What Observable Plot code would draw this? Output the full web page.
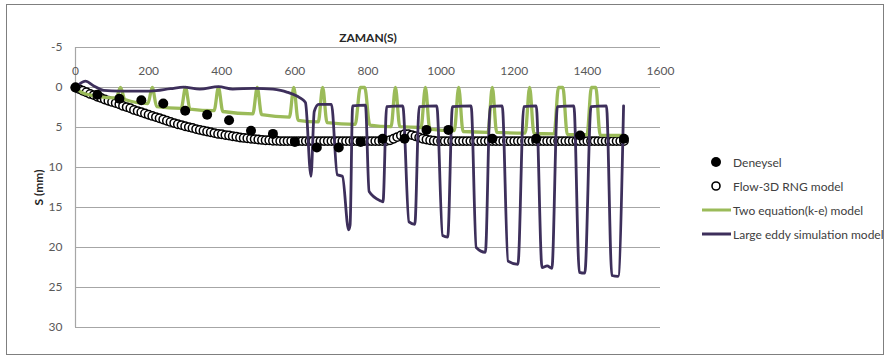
<!DOCTYPE html>
<html>
<head>
<meta charset="utf-8">
<script src="https://cdn.jsdelivr.net/npm/d3@7"></script>
<script src="https://cdn.jsdelivr.net/npm/@observablehq/plot@0.6"></script>
<style>
  body { margin: 0; background: #fff; }
  #wrap { position: relative; width: 889px; height: 358px; font-family: Lato, "Open Sans", sans-serif; overflow: hidden; }
  #chart { position: absolute; left: 0; top: 0; }
  #border { position: absolute; left: 6px; top: 4px; width: 876px; height: 349px; border: 1.8px solid #7f7f7f; pointer-events: none; }
  #legend { position: absolute; left: 701px; top: 150px; font-size: 12px; color: #404040; }
  .item { display: flex; align-items: center; height: 24px; white-space: nowrap; }
  .item svg { flex: none; }
  .item span { margin-left: 2px; }
</style>
</head>
<body>
<div id="wrap">
  <div id="chart"></div>
  <div id="legend"></div>
  <div id="border"></div>
</div>
<script>
// ---- Axis ticks ----
const xTicks = [0, 200, 400, 600, 800, 1000, 1200, 1400, 1600];
const yTicks = [-5, 0, 5, 10, 15, 20, 25, 30];

// ---- Deneysel (experimental) ----
const depT = [0, 60, 120, 180, 240, 300, 360, 420, 480, 540, 600, 660, 720, 780, 840, 900, 960, 1020, 1140, 1260, 1380, 1500];
const depY = [0, 0.9, 1.4, 1.6, 2.0, 2.9, 3.4, 4.1, 5.4, 5.8, 6.8, 7.5, 7.5, 6.8, 6.4, 6.4, 5.3, 5.3, 6.4, 6.4, 6.0, 6.4];

// ---- Flow-3D RNG model (sampled every 10 s, t = 0 ... 1500) ----
const flowStep = 10;
const flowY = [
  0, 0.2, 0.4, 0.6, 0.8, 0.95, 1.15, 1.3, 1.5, 1.65, 1.8,
  1.95, 2.1, 2.3, 2.45, 2.6, 2.8, 2.95, 3.1, 3.25, 3.4,
  3.55, 3.7, 3.85, 4.0, 4.15, 4.3, 4.45, 4.6, 4.7, 4.85,
  4.95, 5.05, 5.2, 5.3, 5.4, 5.5, 5.6, 5.7, 5.8, 5.85,
  5.95, 6.0, 6.1, 6.15, 6.25, 6.3, 6.35, 6.4, 6.45, 6.5,
  6.55, 6.6, 6.6, 6.65, 6.65, 6.7, 6.7, 6.7, 6.7, 6.7,
  6.7, 6.7, 6.7, 6.7, 6.7, 6.7, 6.7, 6.7, 6.7, 6.7,
  6.7, 6.7, 6.7, 6.7, 6.7, 6.7, 6.7, 6.7, 6.7, 6.7,
  6.7, 6.7, 6.7, 6.7, 6.7,
  6.6, 6.4, 6.2, 6.0, 5.85,
  5.85, 5.95, 6.1, 6.25, 6.4,
  6.5, 6.6, 6.65, 6.7, 6.7,
  6.7, 6.7, 6.7, 6.7, 6.7, 6.7, 6.7, 6.7, 6.7, 6.7,
  6.7, 6.7, 6.7, 6.7, 6.7, 6.7, 6.7, 6.7, 6.7, 6.7,
  6.7, 6.7, 6.7, 6.7, 6.7, 6.7, 6.7, 6.7, 6.7, 6.7,
  6.7, 6.7, 6.7, 6.7, 6.7, 6.7, 6.7, 6.7, 6.7, 6.7,
  6.7, 6.7, 6.7, 6.7, 6.7, 6.7, 6.7, 6.7, 6.7, 6.7
];

// ---- Two equation (k-e) model ----
const keT = [0, 20, 60, 111, 123, 135, 198, 210, 222, 289, 301, 313, 379, 391, 403, 485, 497, 509,
  585, 597, 609, 664, 676, 688, 765, 779, 791, 805, 863, 875, 887, 945, 957, 969,
  1036, 1048, 1060, 1128, 1140, 1152, 1230, 1242, 1254, 1309, 1321, 1333, 1345,
  1399, 1411, 1423, 1435, 1500];
const keY = [0, 0.7, 1.1, 1.3, 0, 1.5, 2.0, 0, 2.4, 2.6, 0, 2.7, 2.9, 0, 3.0, 3.3, 0, 3.4,
  3.7, 0, 4.1, 4.3, 0, 4.4, 4.6, 0, 0, 4.7, 4.9, 0, 4.9, 5.0, 0, 5.2,
  5.4, 0, 5.5, 5.6, 0, 5.6, 5.7, 0, 5.75, 5.8, 0, 0, 5.85,
  5.9, 0, 0, 5.95, 6.0];

// ---- Large eddy simulation model ----
const lesT = [0, 27, 50, 77, 120, 205, 260, 296, 340, 391, 430, 487, 540, 561, 580, 607, 621, 629,
  644, 653, 665, 700,
  716, 730, 747, 751, 758, 793,
  803, 836, 841, 851, 895,
  912, 928, 940, 988,
  1004, 1018, 1031, 1082,
  1096, 1121, 1134, 1167,
  1183, 1210, 1226, 1260,
  1276, 1290, 1303, 1318, 1363,
  1378, 1393, 1410, 1452,
  1467, 1484, 1499];
const lesY = [0, -0.8, -0.2, 0.35, 0.45, 0.45, 0.15, -0.05, 0.2, -0.1, 0.2, 0.1, 0.2, 0.35, 0.6, 1.1, 1.5, 1.9,
  11.1, 3.0, 2.1, 2.1,
  10.9, 11.1, 17.8, 17.2, 2.3, 2.2,
  13.0, 14.2, 14.3, 2.4, 2.3,
  16.8, 17.1, 2.4, 2.3,
  18.5, 18.7, 2.4, 2.3,
  20.0, 20.6, 2.4, 2.3,
  21.7, 22.1, 2.4, 2.3,
  22.5, 22.3, 22.6, 2.4, 2.3,
  23.1, 23.2, 2.4, 2.3,
  23.5, 23.6, 2.3];

const seriesNames = ["Deneysel", "Flow-3D RNG model", "Two equation(k-e) model", "Large eddy simulation model"];
const colors = { ke: "#9bbb59", les: "#3d2f5b" };
const titleText = "ZAMAN(S)";
const yLabelText = "S (mm)";

// ---- Build tables ----
const dep = depT.map((t, i) => ({ t, s: depY[i] }));
const flow = flowY.map((s, i) => ({ t: i * flowStep, s }));
const ke = keT.map((t, i) => ({ t, s: keY[i] }));
const les = lesT.map((t, i) => ({ t, s: lesY[i] }));

const chart = Plot.plot({
  width: 889,
  height: 358,
  marginLeft: 75,
  marginRight: 229,
  marginTop: 47,
  marginBottom: 31,
  style: { fontFamily: "Lato, 'Open Sans', sans-serif", fontSize: "12px", background: "transparent", overflow: "visible" },
  x: { domain: [0, 1600], axis: null },
  y: { domain: [-5, 30], reverse: true },
  marks: [
    Plot.ruleY(yTicks, { stroke: "#a6a6a6", strokeWidth: 1.2 }),
    Plot.ruleX([0], { stroke: "#a6a6a6", strokeWidth: 1.2 }),
    Plot.axisY({ ticks: yTicks, tickSize: 0, tickPadding: 13, tickFormat: d => String(d), label: null, color: "#595959", fontSize: 12 }),
    Plot.text(xTicks, { x: d => d, y: d => 0, dy: -16, text: d => String(d), fill: "#595959", fontSize: 12 }),
    Plot.text([titleText], { frameAnchor: "top", dy: -9, lineAnchor: "middle", textAnchor: "middle", fontWeight: "bold", fill: "#262626", fontSize: 12 }),
    Plot.text([yLabelText], { frameAnchor: "left", dx: -36, rotate: -90, textAnchor: "middle", lineAnchor: "middle", fontWeight: "bold", fill: "#262626", fontSize: 12 }),
    Plot.dot(flow, { x: "t", y: "s", r: 4.2, fill: "white", stroke: "black", strokeWidth: 1.5 }),
    Plot.line(ke, { x: "t", y: "s", stroke: colors.ke, strokeWidth: 3.3, curve: "monotone-x", strokeLinejoin: "round" }),
    Plot.line(les, { x: "t", y: "s", stroke: colors.les, strokeWidth: 2.8, curve: "monotone-x", strokeLinejoin: "round" }),
    Plot.dot(dep, { x: "t", y: "s", r: 5, fill: "black" })
  ]
});
document.getElementById("chart").appendChild(chart);

// ---- Legend ----
const legend = document.getElementById("legend");
const markers = [
  '<svg width="30" height="24"><circle cx="15" cy="12" r="5" fill="black"/></svg>',
  '<svg width="30" height="24"><circle cx="15" cy="12" r="4" fill="white" stroke="black" stroke-width="1.6"/></svg>',
  `<svg width="30" height="24"><line x1="1" y1="12" x2="30" y2="12" stroke="${colors.ke}" stroke-width="3"/></svg>`,
  `<svg width="30" height="24"><line x1="1" y1="12" x2="30" y2="12" stroke="${colors.les}" stroke-width="3"/></svg>`
];
seriesNames.forEach((name, i) => {
  const item = document.createElement("div");
  item.className = "item";
  item.innerHTML = markers[i] + "<span>" + name + "</span>";
  legend.appendChild(item);
});
</script>
</body>
</html>
